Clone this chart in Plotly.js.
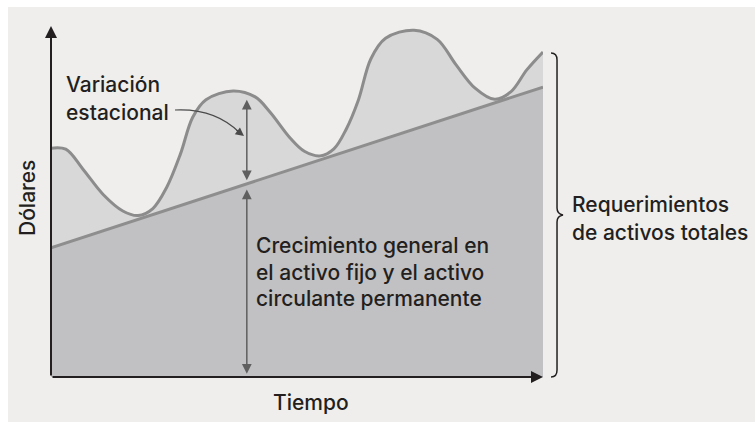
<!DOCTYPE html>
<html>
<head>
<meta charset="utf-8">
<script src="https://cdn.plot.ly/plotly-3.0.1.min.js"></script>
<style>
  body { margin: 0; background: #ffffff; }
  #grafica { width: 755px; height: 422px; }
</style>
</head>
<body>
<div id="grafica"></div>
<script>
// necesidades de activos: curva estacional y tendencia
var tiempo = [0, 3, 6.5, 10.6, 14.6, 17.7, 20.7, 23.5, 26.3, 28.8, 31.5, 37, 41.5, 44.5, 48.6,
  51.5, 54.7, 57.5, 60, 62.5, 65, 68, 73.8, 78.5, 82.3, 86.2, 90.2, 93.5, 96.7, 100];
var activosTotales = [65.2, 64.9, 59.2, 52.0, 47.3, 46.0, 48.0, 54.0, 63.5, 74.0, 79.0, 81.5, 79.8, 75.5, 68.1,
  64.3, 63.0, 65.0, 70.6, 79.0, 90.6, 96.5, 98.8, 96.2, 89.0, 82.3, 79.1, 81.3, 87.5, 92.6];
var tiempoTendencia = [0, 100];
var activoPermanente = [36.8, 82.6];

var colorTexto = '#231f20';
var fuente = 'Inter, Liberation Sans, Arial, sans-serif';

// pixel -> paper (area de trazado 51..543 x 26..377)
function px(x) { return (x - 51) / 492; }
function py(y) { return (377 - y) / 351; }
function ruta(puntos) {
  return puntos.replace(/(-?\d+\.?\d*) (-?\d+\.?\d*)/g, function (m, a, b) {
    return px(+a).toFixed(4) + ' ' + py(+b).toFixed(4);
  });
}

var curva = {
  x: tiempo, y: activosTotales,
  mode: 'lines', fill: 'tozeroy',
  fillcolor: '#d8d8d8',
  line: { color: '#8c8c8c', width: 3, shape: 'spline', smoothing: 1 },
  hoverinfo: 'skip'
};

var tendencia = {
  x: tiempoTendencia, y: activoPermanente,
  mode: 'lines', fill: 'tozeroy',
  fillcolor: '#c1c1c3',
  line: { color: '#8e8e8e', width: 3 },
  hoverinfo: 'skip'
};

// flechas de medida en x = 39.8
var xFlecha = 39.8;
var yTend = activoPermanente[0] + (activoPermanente[1] - activoPermanente[0]) * xFlecha / 100;

function texto(t, x, y, extra) {
  var a = {
    text: t, xref: 'paper', yref: 'paper', x: px(x), y: py(y),
    xanchor: 'left', yanchor: 'middle', showarrow: false,
    font: { family: fuente, size: 21, weight: 500, color: colorTexto }
  };
  for (var k in extra) a[k] = extra[k];
  return a;
}

var anotaciones = [
  // ejes con flecha
  { x: 0, y: 100, ax: 0, ay: 0, axref: 'x', ayref: 'y', xref: 'x', yref: 'y', text: '',
    showarrow: true, arrowhead: 2, arrowsize: 1.2, arrowwidth: 2, arrowcolor: colorTexto, standoff: 0 },
  { x: 100, y: 0, ax: 0, ay: 0, axref: 'x', ayref: 'y', xref: 'x', yref: 'y', text: '',
    showarrow: true, arrowhead: 2, arrowsize: 1.2, arrowwidth: 2, arrowcolor: colorTexto, standoff: 0 },
  // variacion estacional
  { x: xFlecha, y: yTend + 1, ax: xFlecha, ay: 79.4, axref: 'x', ayref: 'y', xref: 'x', yref: 'y', text: '',
    showarrow: true, arrowhead: 2, arrowside: 'end+start', arrowsize: 1.3, arrowwidth: 1.5,
    arrowcolor: '#5f5f5f', standoff: 0, startstandoff: 0 },
  // crecimiento permanente
  { x: xFlecha, y: 0.9, ax: xFlecha, ay: yTend - 1.2, axref: 'x', ayref: 'y', xref: 'x', yref: 'y', text: '',
    showarrow: true, arrowhead: 2, arrowside: 'end+start', arrowsize: 1.3, arrowwidth: 1.5,
    arrowcolor: '#5f5f5f', standoff: 0, startstandoff: 0 },
  // punta de la flecha curva
  { x: px(244), y: py(136), xref: 'paper', yref: 'paper', ax: -9, ay: -7, text: '',
    showarrow: true, arrowhead: 2, arrowsize: 1.4, arrowwidth: 1.2, arrowcolor: '#4a4a4a', standoff: 0 },

  texto('Variación', 64, 84),
  texto('estacional', 64, 112),
  texto('Crecimiento general en', 254, 245),
  texto('el activo fijo y el activo', 254, 272),
  texto('circulante permanente', 254, 298),
  texto('Tiempo', 311, 402, { xanchor: 'center' }),
  texto('Dólares', 27, 198, { xanchor: 'center', textangle: -90 }),
  texto('Requerimientos', 570, 204),
  texto('de activos totales', 570, 232)
];

var formas = [
  { type: 'rect', xref: 'paper', yref: 'paper', x0: px(8), x1: px(760), y0: py(7), y1: py(430),
    fillcolor: '#efeeec', line: { width: 0 }, layer: 'below' },
  { type: 'path', xref: 'paper', yref: 'paper',
    path: ruta('M 175 110 Q 215 108 240 133'),
    line: { color: '#4a4a4a', width: 1.2 } },
  { type: 'path', xref: 'paper', yref: 'paper',
    path: ruta('M 551 53 Q 557 53 557 60 L 557 208 Q 557 214 563 215 Q 557 216 557 222 L 557 370 Q 557 377 551 377'),
    line: { color: colorTexto, width: 1.5 } }
];

var layout = {
  width: 755, height: 422, autosize: false,
  margin: { l: 51, r: 212, t: 26, b: 45 },
  paper_bgcolor: '#ffffff', plot_bgcolor: 'rgba(0,0,0,0)',
  showlegend: false,
  xaxis: { range: [0, 100], visible: false, fixedrange: true },
  yaxis: { range: [0, 100], visible: false, fixedrange: true },
  annotations: anotaciones,
  shapes: formas
};

Plotly.newPlot('grafica', [curva, tendencia], layout, { displayModeBar: false, staticPlot: true });
</script>
</body>
</html>
